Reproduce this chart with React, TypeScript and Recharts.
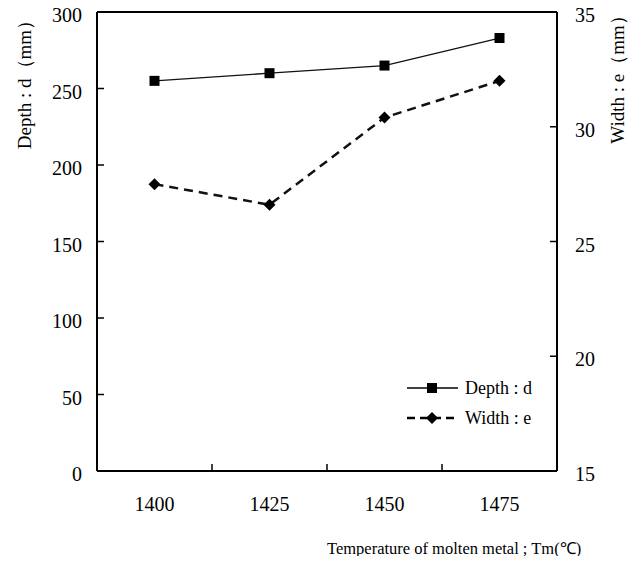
import React from "react";
import { LineChart, Line, XAxis, YAxis, ReferenceLine, Legend } from "recharts";

const temps = [1400, 1425, 1450, 1475];
const depth = [255, 260, 265, 283];
const widthE = [27.5, 26.6, 30.4, 32.0];

const depthTicks = [0, 50, 100, 150, 200, 250, 300];
const widthTicks = [15, 20, 25, 30, 35];
// tick marks sit between the temperature categories
const boundaryTicks = [1412.5, 1437.5, 1462.5];

const data = temps.map((t, i) => ({ t, depth: depth[i], width: widthE[i] }));

const FONT = "'Liberation Serif', 'Times New Roman', serif";

function LeftTick({ x, y, payload }: any) {
  return (
    <g>
      <line x1={x} x2={x + 7} y1={y} y2={y} stroke="#000" strokeWidth={1.5} />
      <text x={x - 15} y={y + 10} textAnchor="end" fontSize={20} fontFamily={FONT} fill="#000">
        {payload.value}
      </text>
    </g>
  );
}

function RightTick({ x, y, payload }: any) {
  return (
    <g>
      <line x1={x - 7} x2={x} y1={y} y2={y} stroke="#000" strokeWidth={1.5} />
      <text x={x + 18} y={y + 10} textAnchor="start" fontSize={20} fontFamily={FONT} fill="#000">
        {payload.value}
      </text>
    </g>
  );
}

function BottomTick({ x, y, payload }: any) {
  if (temps.includes(payload.value)) {
    return (
      <text x={x} y={y + 40} textAnchor="middle" fontSize={20} fontFamily={FONT} fill="#000">
        {payload.value}
      </text>
    );
  }
  return <line x1={x} x2={x} y1={y} y2={y - 7} stroke="#000" strokeWidth={1.5} />;
}

function SquareDot({ cx, cy }: any) {
  return <rect x={cx - 5} y={cy - 5} width={10} height={10} fill="#000" />;
}

function DiamondDot({ cx, cy }: any) {
  return (
    <polygon
      points={`${cx},${cy - 6} ${cx + 6},${cy} ${cx},${cy + 6} ${cx - 6},${cy}`}
      fill="#000"
    />
  );
}

function LegendBox() {
  return (
    <svg width={170} height={60}>
      <line x1={4} x2={55} y1={12} y2={12} stroke="#000" strokeWidth={1.3} />
      <rect x={24} y={7} width={10} height={10} fill="#000" />
      <text x={62} y={18} fontSize={18} fontFamily={FONT} fill="#000">
        Depth : d
      </text>
      <line x1={4} x2={55} y1={42} y2={42} stroke="#000" strokeWidth={2.5} strokeDasharray="8 5" />
      <polygon points="29,36 35,42 29,48 23,42" fill="#000" />
      <text x={62} y={48} fontSize={18} fontFamily={FONT} fill="#000">
        Width : e
      </text>
    </svg>
  );
}

export default function App() {
  return (
    <div style={{ position: "relative", margin: -8, width: 642, height: 564, background: "#fff" }}>
      <LineChart width={642} height={564} data={data} margin={{ top: 12, right: 0, left: 0, bottom: 0 }}>
        <XAxis
          dataKey="t"
          type="number"
          domain={[1387.5, 1487.5]}
          ticks={[...temps, ...boundaryTicks].sort((a, b) => a - b)}
          interval={0}
          height={93}
          tickSize={0}
          tickMargin={0}
          tickLine={false}
          axisLine={{ stroke: "#000", strokeWidth: 2 }}
          tick={<BottomTick />}
        />
        <YAxis
          yAxisId="left"
          domain={[0, 300]}
          ticks={depthTicks}
          interval={0}
          width={97}
          tickSize={0}
          tickMargin={0}
          tickLine={false}
          axisLine={{ stroke: "#000", strokeWidth: 2 }}
          tick={<LeftTick />}
        />
        <YAxis
          yAxisId="right"
          orientation="right"
          domain={[15, 35]}
          ticks={widthTicks}
          interval={0}
          width={85}
          tickSize={0}
          tickMargin={0}
          tickLine={false}
          axisLine={{ stroke: "#000", strokeWidth: 2 }}
          tick={<RightTick />}
        />
        <ReferenceLine yAxisId="left" y={300} stroke="#000" strokeWidth={2} />
        <Line
          yAxisId="left"
          dataKey="depth"
          type="linear"
          stroke="#111"
          strokeWidth={1.3}
          dot={<SquareDot />}
          isAnimationActive={false}
        />
        <Line
          yAxisId="right"
          dataKey="width"
          type="linear"
          stroke="#111"
          strokeWidth={2.5}
          strokeDasharray="9 6"
          dot={<DiamondDot />}
          isAnimationActive={false}
        />
        <Legend
          layout="vertical"
          align="center"
          verticalAlign="middle"
          content={<LegendBox />}
          wrapperStyle={{ left: 403, top: 376, width: 170 }}
        />
      </LineChart>
      <svg
        width={642}
        height={564}
        style={{ position: "absolute", left: 0, top: 0, pointerEvents: "none" }}
      >
        <text
          transform="translate(31, 80) rotate(-90)"
          textAnchor="middle"
          fontSize={19}
          fontFamily={FONT}
          fill="#000"
        >
          Depth : d（mm）
        </text>
        <text
          transform="translate(624, 75) rotate(-90)"
          textAnchor="middle"
          fontSize={19}
          fontFamily={FONT}
          fill="#000"
        >
          Width : e（mm）
        </text>
        <text x={327} y={554} fontSize={16.5} fontFamily={FONT} fill="#000">
          Temperature of molten metal ; Tm(℃)
        </text>
      </svg>
    </div>
  );
}
